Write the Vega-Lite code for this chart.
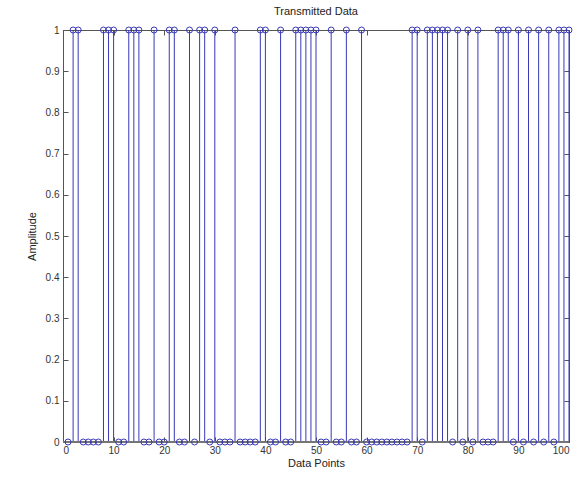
{
  "$schema": "https://vega.github.io/schema/vega-lite/v6.json",
  "width": 506,
  "height": 412,
  "autosize": {"type": "none"},
  "padding": {"left": 63, "top": 30, "right": 13, "bottom": 36},
  "background": "white",
  "title": {"text": "Transmitted Data", "fontSize": 11, "font": "Liberation Sans", "fontWeight": "normal", "color": "#222", "offset": 8},
  "config": {
    "view": {"stroke": "#555", "strokeWidth": 1},
    "axis": {"grid": false, "labelFont": "Liberation Sans", "labelFontSize": 10, "labelColor": "#333", "titleFont": "Liberation Sans", "titleFontSize": 11, "titleFontWeight": "normal", "titleColor": "#222", "domainColor": "#555", "tickColor": "#555", "tickSize": -5}
  },
  "data": {"values": [
    {"i":1,"v":0},{"i":2,"v":1},{"i":3,"v":1},{"i":4,"v":0},{"i":5,"v":0},{"i":6,"v":0},{"i":7,"v":0},{"i":8,"v":1},{"i":9,"v":1},{"i":10,"v":1},
    {"i":11,"v":0},{"i":12,"v":0},{"i":13,"v":1},{"i":14,"v":1},{"i":15,"v":1},{"i":16,"v":0},{"i":17,"v":0},{"i":18,"v":1},{"i":19,"v":0},{"i":20,"v":0},
    {"i":21,"v":1},{"i":22,"v":1},{"i":23,"v":0},{"i":24,"v":0},{"i":25,"v":1},{"i":26,"v":0},{"i":27,"v":1},{"i":28,"v":1},{"i":29,"v":0},{"i":30,"v":1},
    {"i":31,"v":0},{"i":32,"v":0},{"i":33,"v":0},{"i":34,"v":1},{"i":35,"v":0},{"i":36,"v":0},{"i":37,"v":0},{"i":38,"v":0},{"i":39,"v":1},{"i":40,"v":1},
    {"i":41,"v":0},{"i":42,"v":0},{"i":43,"v":1},{"i":44,"v":0},{"i":45,"v":0},{"i":46,"v":1},{"i":47,"v":1},{"i":48,"v":1},{"i":49,"v":1},{"i":50,"v":1},
    {"i":51,"v":0},{"i":52,"v":0},{"i":53,"v":1},{"i":54,"v":0},{"i":55,"v":0},{"i":56,"v":1},{"i":57,"v":0},{"i":58,"v":0},{"i":59,"v":1},{"i":60,"v":0},
    {"i":61,"v":0},{"i":62,"v":0},{"i":63,"v":0},{"i":64,"v":0},{"i":65,"v":0},{"i":66,"v":0},{"i":67,"v":0},{"i":68,"v":0},{"i":69,"v":1},{"i":70,"v":1},
    {"i":71,"v":0},{"i":72,"v":1},{"i":73,"v":1},{"i":74,"v":1},{"i":75,"v":1},{"i":76,"v":1},{"i":77,"v":0},{"i":78,"v":1},{"i":79,"v":0},{"i":80,"v":1},
    {"i":81,"v":0},{"i":82,"v":1},{"i":83,"v":0},{"i":84,"v":0},{"i":85,"v":0},{"i":86,"v":1},{"i":87,"v":1},{"i":88,"v":1},{"i":89,"v":0},{"i":90,"v":1},
    {"i":91,"v":0},{"i":92,"v":1},{"i":93,"v":0},{"i":94,"v":1},{"i":95,"v":0},{"i":96,"v":1},{"i":97,"v":0},{"i":98,"v":1},{"i":99,"v":1},{"i":100,"v":1}
  ]},
  "layer": [
    {
      "mark": {"type": "rule", "color": "#3838b8", "strokeWidth": 1},
      "encoding": {
        "x": {"field": "i", "type": "quantitative", "scale": {"domain": [0, 100], "nice": false}, "axis": {"orient": "bottom", "title": "Data Points", "values": [0,10,20,30,40,50,60,70,80,90,100], "labelPadding": 8, "titlePadding": 2}},
        "y": {"field": "v", "type": "quantitative", "scale": {"domain": [0, 1], "nice": false}, "axis": {"orient": "left", "title": "Amplitude", "values": [0,0.1,0.2,0.3,0.4,0.5,0.6,0.7,0.8,0.9,1], "format": "~g", "labelPadding": 9, "titlePadding": 8}},
        "y2": {"datum": 0}
      }
    },
    {
      "mark": {"type": "rule", "color": "#777", "strokeWidth": 1},
      "encoding": {"y": {"datum": 0, "type": "quantitative", "axis": null}}
    },
    {
      "mark": {"type": "point", "shape": "circle", "filled": false, "color": "#3838b8", "size": 36, "strokeWidth": 1, "opacity": 1},
      "encoding": {
        "x": {"field": "i", "type": "quantitative", "axis": {"orient": "top", "title": null, "labels": false, "domain": false, "values": [0,10,20,30,40,50,60,70,80,90,100]}},
        "y": {"field": "v", "type": "quantitative", "axis": {"orient": "right", "title": null, "labels": false, "domain": false, "values": [0,0.1,0.2,0.3,0.4,0.5,0.6,0.7,0.8,0.9,1]}}
      }
    }
  ],
  "resolve": {"axis": {"x": "independent", "y": "independent"}}
}
